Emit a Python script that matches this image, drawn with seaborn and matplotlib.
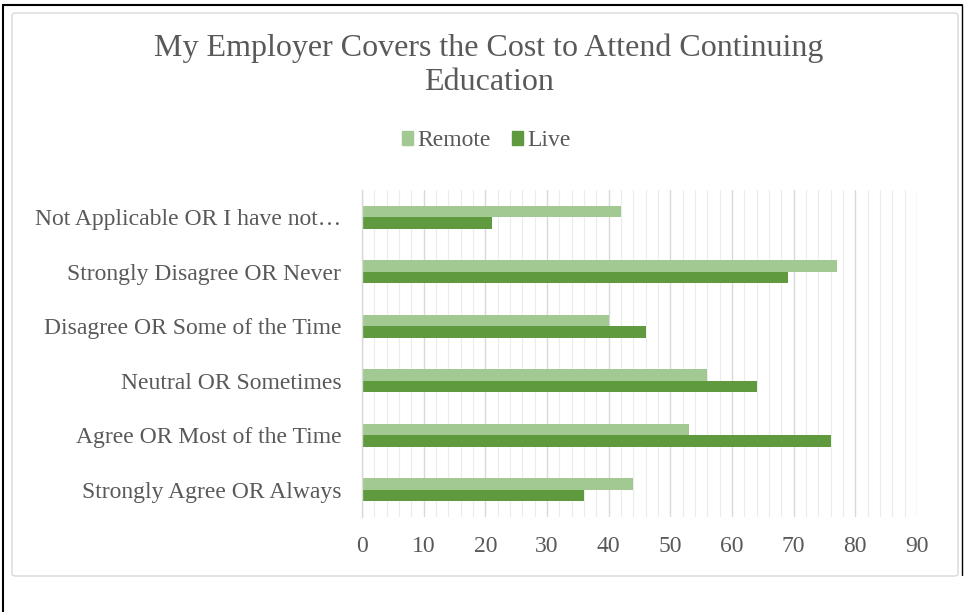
import matplotlib
matplotlib.use("Agg")
import matplotlib.pyplot as plt
import seaborn as sns
import pandas as pd
from matplotlib.patches import FancyBboxPatch
from matplotlib.lines import Line2D
from matplotlib.ticker import MultipleLocator, FixedLocator

categories = [
    "Not Applicable OR I have not…",
    "Strongly Disagree OR Never",
    "Disagree OR Some of the Time",
    "Neutral OR Sometimes",
    "Agree OR Most of the Time",
    "Strongly Agree OR Always",
]
remote = [42, 77, 40, 56, 53, 44]
live = [21, 69, 46, 64, 76, 36]
series = ["Remote", "Live"]

df = pd.DataFrame({
    "category": categories * 2,
    "value": remote + live,
    "series": ["Remote"] * len(categories) + ["Live"] * len(categories),
})

sns.set_theme(style="white")
plt.rcParams["font.family"] = ["Liberation Serif", "DejaVu Serif"]

fig = plt.figure(figsize=(9.64, 6.12), dpi=100)
fig.patch.set_facecolor("white")

# outer border lines
fig.add_artist(Line2D([3/964, 3/964], [0, 1 - 5/612], color="black", lw=1.5, transform=fig.transFigure))
fig.add_artist(Line2D([3/964, 962/964], [1 - 5/612, 1 - 5/612], color="black", lw=1.5, transform=fig.transFigure))
fig.add_artist(Line2D([962/964, 962/964], [1 - 5/612, 1 - 575/612], color="black", lw=1.0, transform=fig.transFigure))
# inner chart area box
fig.add_artist(FancyBboxPatch((12/964, 1 - 576/612), 946/964, 563/612,
                              boxstyle="round,pad=0,rounding_size=0.004",
                              transform=fig.transFigure, fill=False,
                              edgecolor="#d9d9d9", lw=1.0))

ax = fig.add_axes([362/964, 1 - 517/612, 555/964, 327/612])
palette = {"Remote": "#a3c992", "Live": "#5f9a3e"}
sns.barplot(data=df, y="category", x="value", hue="series", order=categories,
            hue_order=series, palette=palette, width=0.42, orient="h",
            ax=ax, legend=False, saturation=1, edgecolor="none")

ax.set_xlim(0, 90)
ax.set_ylim(len(categories) - 0.5, -0.5)
ax.xaxis.set_major_locator(MultipleLocator(10))
ax.xaxis.set_minor_locator(MultipleLocator(2))
ax.grid(axis="x", which="major", color="#d9d9d9", lw=1.0)
ax.grid(axis="x", which="minor", color="#ececec", lw=0.8)
ax.set_axisbelow(True)
ax.set_xlabel("")
ax.set_ylabel("")
for s in ["top", "right", "bottom"]:
    ax.spines[s].set_visible(False)
ax.spines["left"].set_color("#d9d9d9")
ax.spines["left"].set_linewidth(1.0)

ax.tick_params(axis="x", which="both", length=0, labelsize=17, labelcolor="#595959", pad=14)
ax.tick_params(axis="y", which="major", length=0, labelsize=17, labelcolor="#595959", pad=15)
ax.yaxis.set_minor_locator(FixedLocator([i - 0.5 for i in range(len(categories) + 1)]))
ax.tick_params(axis="y", which="minor", length=5, color="#d9d9d9", width=1.0, direction="out")

fig.text(489/964, 1 - 48/612, "My Employer Covers the Cost to Attend Continuing",
         ha="center", va="center", fontsize=23, color="#595959")
fig.text(489/964, 1 - 83/612, "Education",
         ha="center", va="center", fontsize=23, color="#595959")

handles = [plt.Rectangle((0, 0), 1, 1, color=palette[s]) for s in series]
fig.legend(handles, series, loc="center", bbox_to_anchor=(486/964, 1 - 141/612),
           ncol=2, frameon=False, fontsize=17, handlelength=0.5, handleheight=0.5,
           handletextpad=0.15, columnspacing=0.9, labelcolor="#595959")

fig.savefig("out.png", dpi=100, facecolor="white")
